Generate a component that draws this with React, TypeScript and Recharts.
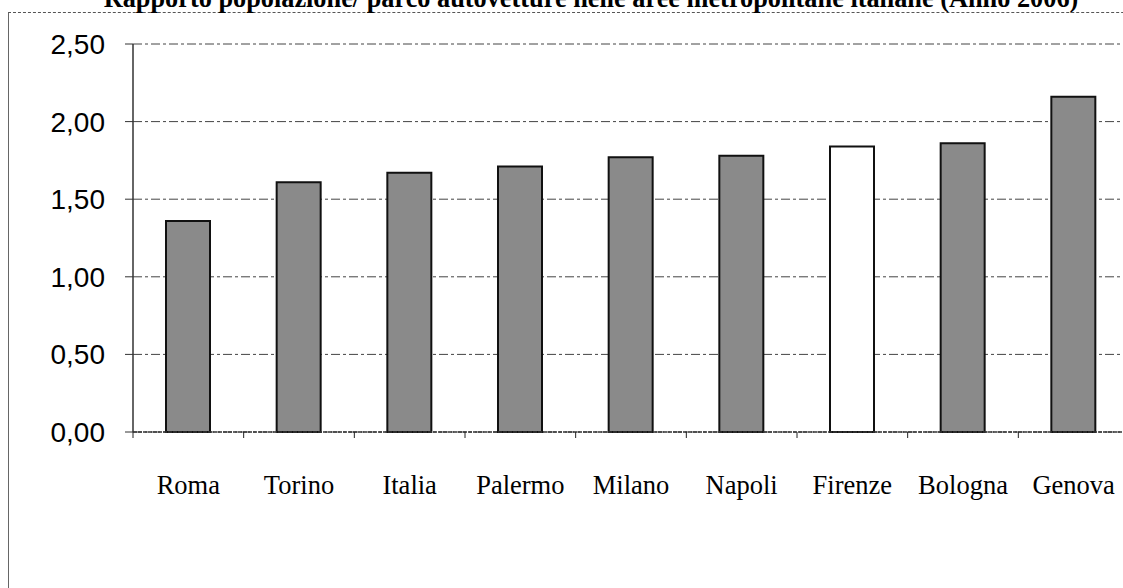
import React from "react";
import { BarChart, Bar, XAxis, YAxis, CartesianGrid, Cell } from "recharts";

const categories = ["Roma", "Torino", "Italia", "Palermo", "Milano", "Napoli", "Firenze", "Bologna", "Genova"];
const values = [1.36, 1.61, 1.67, 1.71, 1.77, 1.78, 1.84, 1.86, 2.16];
const yTicks = [0, 0.5, 1, 1.5, 2, 2.5];
const highlighted = "Firenze";
const title = "Rapporto popolazione/ parco autovetture nelle aree metropolitane italiane (Anno 2006)";

const data = categories.map((c, i) => ({ name: c, value: values[i] }));

const CHART_W = 1140;
const LEFT = 133;
const RIGHT_M = 11;
const BAND = (CHART_W - LEFT - RIGHT_M) / categories.length;

const XTick = (props: any) => {
  const { x, y, payload, index } = props;
  const isLast = index === categories.length - 1;
  return (
    <g>
      <line x1={x - BAND / 2} x2={x - BAND / 2} y1={y - 8} y2={y - 2} stroke="#222" strokeWidth={1} />
      {isLast && (
        <line x1={x + BAND / 2} x2={x + BAND / 2} y1={y - 8} y2={y - 2} stroke="#222" strokeWidth={1} />
      )}
      <text
        x={x}
        y={y + 54}
        textAnchor="middle"
        fontFamily="'Liberation Serif', 'Times New Roman', serif"
        fontSize={26.5}
        fill="#000"
      >
        {payload.value}
      </text>
    </g>
  );
};

export default function App() {
  return (
    <div
      style={{
        position: "fixed",
        left: 0,
        top: 0,
        width: 1123,
        height: 588,
        overflow: "hidden",
        background: "#fff",
      }}
    >
      <div
        style={{
          position: "absolute",
          left: 8,
          top: 12,
          width: 1200,
          height: 600,
          borderLeft: "1px solid #666",
          borderTop: "1px dashed #555",
        }}
      />
      <svg width={1123} height={30} style={{ position: "absolute", left: 0, top: 0 }}>
        <text
          x={591}
          y={7}
          textAnchor="middle"
          fontFamily="'Liberation Serif', 'Times New Roman', serif"
          fontWeight="bold"
          fontSize={26.3}
          fill="#000"
        >
          {title}
        </text>
      </svg>
      <div style={{ position: "absolute", left: 0, top: 0 }}>
        <BarChart
          width={CHART_W}
          height={588}
          data={data}
          margin={{ top: 44, right: RIGHT_M, bottom: 96, left: 0 }}
          barCategoryGap={0}
        >
          <CartesianGrid vertical={false} stroke="#444" strokeDasharray="9 3 3 3" />
          <XAxis
            dataKey="name"
            height={60}
            interval={0}
            tickLine={false}
            axisLine={{ stroke: "#333", strokeWidth: 1.5, strokeDasharray: "4 1" }}
            tick={<XTick />}
          />
          <YAxis
            width={LEFT}
            domain={[0, 2.5]}
            ticks={yTicks}
            interval={0}
            tickSize={8}
            tickMargin={20}
            tickLine={{ stroke: "#333" }}
            axisLine={{ stroke: "#333", strokeWidth: 1.5 }}
            tickFormatter={(v: number) => v.toFixed(2).replace(".", ",")}
            tick={{
              fontFamily: "'Liberation Sans', Arial, sans-serif",
              fontSize: 28,
              fill: "#000",
            }}
          />
          <Bar dataKey="value" barSize={44} stroke="#111" strokeWidth={2} isAnimationActive={false}>
            {data.map((d) => (
              <Cell key={d.name} fill={d.name === highlighted ? "#ffffff" : "#8a8a8a"} />
            ))}
          </Bar>
        </BarChart>
      </div>
    </div>
  );
}
